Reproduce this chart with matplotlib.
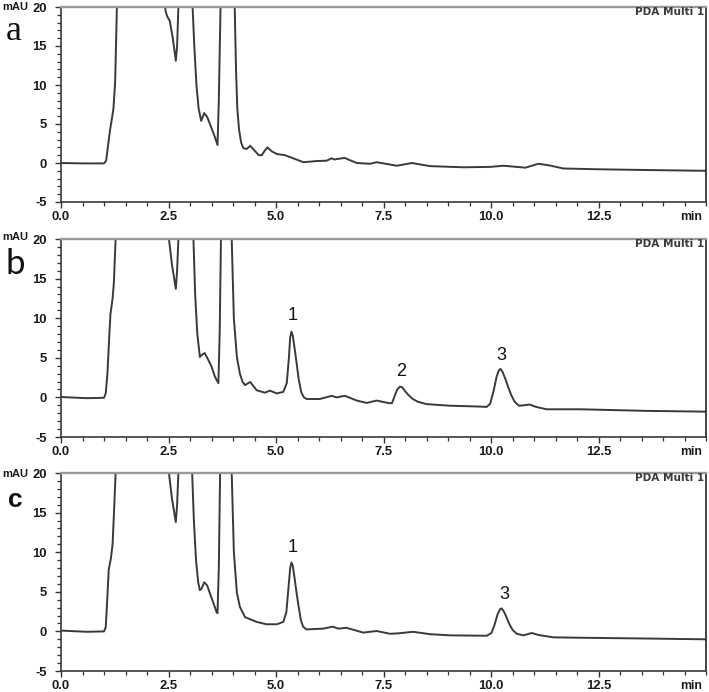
import matplotlib
matplotlib.use("Agg")
import matplotlib.pyplot as plt
from matplotlib.ticker import MultipleLocator, FixedLocator

# ---------------- data (retention time in min, absorbance in mAU) ----------------
time_a = [0.0, 0.5, 0.9, 1.0, 1.05, 1.1, 1.14, 1.17, 1.22, 1.26, 1.3, 1.33,
          2.38, 2.43, 2.47, 2.53, 2.6, 2.67, 2.70, 2.73, 2.76,
          3.03, 3.06, 3.1, 3.15, 3.2, 3.26, 3.33, 3.40, 3.47, 3.58, 3.64, 3.67, 3.71, 3.74,
          4.0, 4.04, 4.07, 4.10, 4.14, 4.19, 4.24, 4.32, 4.40, 4.50, 4.60, 4.67, 4.74, 4.80,
          4.90, 5.02, 5.21, 5.40, 5.64, 5.95, 6.18, 6.29, 6.36, 6.41, 6.60, 6.70, 6.88,
          7.19, 7.34, 7.55, 7.81, 8.16, 8.58, 9.36, 9.98, 10.29, 10.6, 10.8, 11.10, 11.35,
          11.68, 12.45, 13.62, 15.0]
mau_a = [0.0, -0.05, -0.05, -0.05, 0.3, 2.5, 4.2, 5.2, 7.0, 10.5, 20.0, 30.0,
         30.0, 19.5, 18.8, 18.2, 16.0, 13.1, 15.0, 20.0, 30.0,
         30.0, 20.0, 15.0, 10.0, 7.0, 5.4, 6.4, 5.9, 4.9, 3.3, 2.3, 8.0, 20.0, 30.0,
         30.0, 20.0, 12.0, 7.0, 4.3, 2.6, 1.9, 1.8, 2.2, 1.6, 1.0, 1.0, 1.6, 2.0,
         1.5, 1.15, 1.0, 0.6, 0.1, 0.25, 0.3, 0.6, 0.45, 0.5, 0.65, 0.4, 0.0,
         -0.1, 0.1, -0.1, -0.35, 0.0, -0.4, -0.55, -0.5, -0.35, -0.5, -0.6, -0.1, -0.3,
         -0.7, -0.8, -0.9, -1.0]

time_b = [0.0, 0.6, 1.0, 1.04, 1.08, 1.12, 1.15, 1.2, 1.23, 1.27, 1.30,
          2.47, 2.51, 2.58, 2.67, 2.70, 2.73, 2.76,
          3.05, 3.08, 3.12, 3.17, 3.23, 3.26, 3.34, 3.42, 3.5, 3.58, 3.66, 3.69, 3.72, 3.75,
          3.94, 3.97, 4.02, 4.09, 4.16, 4.22, 4.28, 4.40, 4.55, 4.74, 4.86, 5.02, 5.17,
          5.25, 5.30, 5.33, 5.36, 5.39, 5.43, 5.48, 5.53, 5.59, 5.65, 5.71, 6.02, 6.30,
          6.41, 6.60, 6.88, 7.11, 7.34, 7.65, 7.70, 7.76, 7.82, 7.88, 7.93, 8.0, 8.08,
          8.18, 8.30, 8.50, 9.05, 9.70, 9.90, 9.98, 10.06, 10.13, 10.18, 10.22, 10.27,
          10.33, 10.40, 10.47, 10.55, 10.65, 10.75, 10.90, 11.05, 11.29, 12.07, 13.62, 15.0]
mau_b = [0.05, -0.1, -0.05, 0.5, 3.0, 7.5, 10.5, 12.5, 14.5, 20.0, 30.0,
         30.0, 20.0, 16.8, 13.7, 16.0, 20.0, 30.0,
         30.0, 20.0, 13.0, 8.0, 5.1, 5.3, 5.6, 4.8, 3.9, 2.6, 1.8, 8.0, 20.0, 30.0,
         30.0, 20.0, 10.0, 5.1, 3.0, 2.0, 1.55, 1.95, 0.9, 0.6, 0.85, 0.5, 0.7,
         1.8, 5.0, 7.6, 8.3, 7.8, 6.3, 4.3, 2.2, 0.6, 0.0, -0.2, -0.2, 0.2,
         0.0, 0.2, -0.4, -0.7, -0.4, -0.75, -0.7, 0.2, 1.0, 1.35, 1.3, 0.8, 0.3,
         -0.2, -0.55, -0.85, -1.05, -1.15, -1.2, -0.8, 0.8, 2.6, 3.4, 3.6, 3.2,
         2.4, 1.3, 0.3, -0.55, -1.05, -1.0, -0.9, -1.2, -1.5, -1.5, -1.7, -1.8]

time_c = [0.0, 0.6, 1.0, 1.04, 1.08, 1.11, 1.16, 1.2, 1.24, 1.27, 1.30,
          2.47, 2.51, 2.58, 2.67, 2.70, 2.73, 2.76,
          3.02, 3.05, 3.09, 3.14, 3.19, 3.23, 3.27, 3.33, 3.40, 3.47, 3.55, 3.62, 3.64,
          3.67, 3.70, 3.73,
          3.94, 3.97, 4.02, 4.09, 4.16, 4.28, 4.55, 4.78, 5.02, 5.17,
          5.24, 5.29, 5.33, 5.36, 5.39, 5.43, 5.48, 5.53, 5.58, 5.63, 5.71, 6.10, 6.32,
          6.45, 6.64, 7.03, 7.34, 7.65, 7.84, 8.19, 8.58, 9.05, 9.90,
          10.01, 10.08, 10.15, 10.21, 10.25, 10.30, 10.36, 10.42, 10.50, 10.60, 10.75,
          10.95, 11.10, 11.45, 12.07, 13.62, 15.0]
mau_c = [0.1, -0.05, 0.0, 0.5, 4.5, 7.8, 9.2, 11.0, 16.0, 20.0, 30.0,
         30.0, 20.0, 16.8, 13.8, 16.0, 20.0, 30.0,
         30.0, 20.0, 14.0, 9.0, 6.2, 5.2, 5.4, 6.2, 5.8, 4.7, 3.5, 2.4, 2.3,
         8.0, 20.0, 30.0,
         30.0, 20.0, 10.0, 4.9, 3.1, 1.8, 1.2, 0.9, 0.9, 1.2,
         2.4, 5.5, 8.0, 8.7, 8.3, 6.8, 4.8, 3.0, 1.4, 0.6, 0.25, 0.35, 0.6,
         0.35, 0.45, -0.15, 0.05, -0.3, -0.25, -0.05, -0.35, -0.5, -0.55,
         -0.2, 0.8, 2.1, 2.8, 2.9, 2.5, 1.8, 1.0, 0.2, -0.3, -0.5,
         -0.2, -0.45, -0.75, -0.8, -0.9, -1.0]

panel_letters = ["a", "b", "c"]
peak_labels_b = ["1", "2", "3"]
peak_pos_b_x = [5.39, 7.90, 10.25]
peak_pos_b_y = [10.3, 3.25, 5.35]
peak_labels_c = ["1", "3"]
peak_pos_c_x = [5.39, 10.30]
peak_pos_c_y = [10.55, 4.6]
xtick_values = [0.0, 2.5, 5.0, 7.5, 10.0, 12.5]
xtick_labels = ["0.0", "2.5", "5.0", "7.5", "10.0", "12.5"]
ytick_values = [-5, 0, 5, 10, 15, 20]

# ---------------- figure ----------------
W, H = 709, 692
fig = plt.figure(figsize=(W / 100, H / 100), dpi=100)

def px_box(left, top, right, bottom):
    return [left / W, 1 - bottom / H, (right - left) / W, (bottom - top) / H]

boxes = [px_box(61, 7, 706, 202), px_box(61, 239, 706, 437), px_box(61, 473, 706, 671)]
series = [(time_a, mau_a), (time_b, mau_b), (time_c, mau_c)]

tick_font = dict(family="Liberation Sans", weight="bold", size=9.4)
line_color = "#3a3a3a"

axes = []
for i, (box, (t, m)) in enumerate(zip(boxes, series)):
    ax = fig.add_axes(box)
    axes.append(ax)
    ax.plot(t, m, color=line_color, lw=1.4, solid_joinstyle="round")
    ax.set_xlim(0, 15)
    ax.set_ylim(-5, 20)
    ax.xaxis.set_major_locator(FixedLocator(xtick_values))
    ax.set_xticklabels(xtick_labels, fontdict=tick_font, color="#1a1a1a")
    ax.xaxis.set_minor_locator(MultipleLocator(0.5))
    ax.yaxis.set_major_locator(FixedLocator(ytick_values))
    ax.set_yticklabels([str(v) for v in ytick_values], fontdict=tick_font, color="#1a1a1a")
    ax.yaxis.set_minor_locator(MultipleLocator(1))
    ax.tick_params(axis="both", which="major", direction="out", length=4.5, width=1.0,
                   color="#333333")
    ax.tick_params(axis="both", which="minor", direction="out", length=2.6, width=0.9,
                   color="#333333")
    ax.tick_params(axis="x", which="major", pad=2.0)
    ax.tick_params(axis="y", which="major", pad=5.6)
    for side in ("left", "bottom"):
        ax.spines[side].set_color("#3a3a3a")
        ax.spines[side].set_linewidth(1.2)
    ax.spines["top"].set_color("#9a9a9a")
    ax.spines["top"].set_linewidth(1.7)
    ax.spines["right"].set_color("#222222")
    ax.spines["right"].set_linewidth(1.2)

    # "min" unit label at the end of the x tick label row
    ax.annotate("min", xy=(0.977, 0), xycoords="axes fraction",
                xytext=(0, -6.5), textcoords="offset points",
                ha="center", va="top", family="Liberation Sans", weight="bold",
                size=8.8, color="#1a1a1a")
    # detector label
    ax.text(0.997, 1 - 5 / 198, "PDA Multi 1", transform=ax.transAxes,
            ha="right", va="center", family="DejaVu Sans", weight="bold",
            size=7.6, color="#3a3a3a")

# "mAU" unit labels and panel letters (pixel positions)
for top in (7, 237, 474):
    fig.text(2 / W, 1 - top / H, "mAU", ha="left", va="center",
             family="Liberation Sans", weight="bold", size=8, color="#1a1a1a")

fig.text(14 / W, 1 - 32 / H, panel_letters[0], ha="center", va="center",
         family="Liberation Serif", size=26, color="#111111")
fig.text(15 / W, 1 - 264 / H, panel_letters[1], ha="center", va="center",
         family="Lato", size=25, color="#111111")
fig.text(15 / W, 1 - 500 / H, panel_letters[2], ha="center", va="center",
         family="Liberation Sans", weight="bold", size=19, color="#111111")

# peak labels
for lab, x, y in zip(peak_labels_b, peak_pos_b_x, peak_pos_b_y):
    axes[1].text(x, y, lab, ha="center", va="center", family="Liberation Sans",
                 size=13, color="#111111")
for lab, x, y in zip(peak_labels_c, peak_pos_c_x, peak_pos_c_y):
    axes[2].text(x, y, lab, ha="center", va="center", family="Liberation Sans",
                 size=13, color="#111111")

fig.savefig("out.png", dpi=100)
